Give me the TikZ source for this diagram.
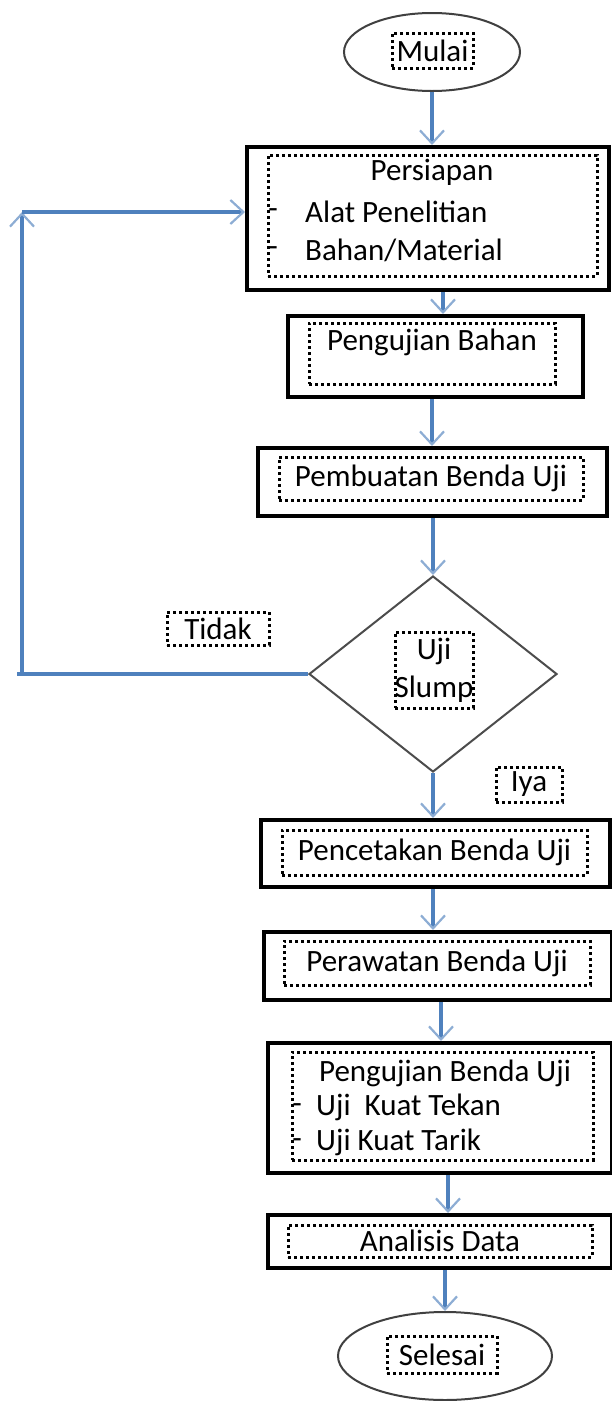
\documentclass[tikz,border=0pt]{standalone}
\usepackage{fontspec}
\setmainfont{Carlito}
\usepackage{tikz}
\usetikzlibrary{shapes.geometric, arrows.meta}
\definecolor{flowblue}{RGB}{79,129,189}
\tikzset{
  procbox/.style={draw, line width=4pt, inner sep=0pt},
  inbox/.style={draw, line width=3pt, dash pattern=on 3pt off 3pt, inner sep=0pt},
  terminal/.style={ellipse, draw=black!75, line width=2pt, inner sep=0pt},
  decision/.style={diamond, draw=black!70, line width=2pt, inner sep=0pt},
  flow/.style={flowblue, line width=3.5pt, -{Straight Barb[length=13pt, width=24pt, line width=2.2pt, color=flowblue!65]}},
  txt/.style={inner sep=0pt, font=\fontsize{31}{37}\selectfont}
}
\begin{document}
\begin{tikzpicture}[x=1pt, y=-1pt, every node/.append style={font=\fontsize{31}{37}\selectfont}]
		\useasboundingbox (0,0) rectangle (611,1401);
		% terminal
		\node[terminal, minimum width=176, minimum height=78] (mulai) at (432,52) {};
		\node[inbox, minimum width=81, minimum height=35] (mulaiIn) at (432.5,50.5) {Mulai};
		% persiapan
		\node[procbox, minimum width=362, minimum height=143] (persiapan) at (428,218.5) {};
		\node[inbox, minimum width=329, minimum height=121] (persiapanIn) at (432.5,215.5) {};
		\node[txt] (persiapanT) at (432,172) {Persiapan};
		\node[txt] (dashA) at (273,214) {-};
		\node[txt] (dashB) at (273,252) {-};
		\node[txt, anchor=west] (alat) at (305,212) {Alat Penelitian};
		\node[txt, anchor=west] (bahan) at (305,250) {Bahan/Material};
		% pengujian bahan
		\node[procbox, minimum width=295, minimum height=81] (ujiBahan) at (435.5,356.5) {};
		\node[inbox, minimum width=246, minimum height=61] (ujiBahanIn) at (432,353.5) {};
		\node[txt] (ujiBahanT) at (432,342) {Pengujian Bahan};
		% pembuatan
		\node[procbox, minimum width=349, minimum height=68] (pembuatan) at (432.5,482) {};
		\node[inbox, minimum width=304, minimum height=43] (pembuatanIn) at (431,478.5) {Pembuatan Benda Uji};
		% uji slump
		\node[decision, minimum width=248, minimum height=196] (slump) at (433,674) {};
		\node[inbox, minimum width=78, minimum height=76] (slumpIn) at (434,670) {};
		\node[txt] (slumpA) at (434,651) {Uji};
		\node[txt] (slumpB) at (434,689) {Slump};
		\node[inbox, minimum width=102, minimum height=33] (tidak) at (218,628.5) {Tidak};
		\node[inbox, minimum width=66, minimum height=35] (iya) at (529,784.5) {Iya};
		% pencetakan, perawatan
		\node[procbox, minimum width=349, minimum height=67] (pencetakan) at (435.5,853.5) {};
		\node[inbox, minimum width=305, minimum height=45] (pencetakanIn) at (434.5,852.5) {Pencetakan Benda Uji};
		\node[procbox, minimum width=348, minimum height=68] (perawatan) at (438,966) {};
		\node[inbox, minimum width=306, minimum height=44] (perawatanIn) at (437,963) {Perawatan Benda Uji};
		% pengujian benda uji
		\node[procbox, minimum width=344, minimum height=130] (ujiBenda) at (440,1108) {};
		\node[inbox, minimum width=301, minimum height=108] (ujiBendaIn) at (442.5,1106) {};
		\node[txt] (ujiBendaT) at (445,1073) {Pengujian Benda Uji};
		\node[txt] (dashC) at (297,1109) {-};
		\node[txt] (dashD) at (297,1144) {-};
		\node[txt, anchor=west] (tekan) at (316,1107) {Uji~~Kuat Tekan};
		\node[txt, anchor=west] (tarik) at (316,1142) {Uji Kuat Tarik};
		% analisis, selesai
		\node[procbox, minimum width=344, minimum height=53] (analisis) at (440,1241.5) {};
		\node[inbox, minimum width=304, minimum height=32] (analisisIn) at (440,1241) {Analisis Data};
		\node[terminal, minimum width=214, minimum height=88] (selesai) at (445,1356) {};
		\node[inbox, minimum width=110, minimum height=37] (selesaiIn) at (442,1354.5) {Selesai};
		% alur
		\draw[flow] (mulai.south) -- (mulai.south |- persiapan.north);
		\draw[flow] (persiapan.south -| 443,0) -- (ujiBahan.north -| 443,0);
		\draw[flow] (ujiBahan.south -| 432,0) -- (pembuatan.north -| 432,0);
		\draw[flow] (pembuatan.south -| slump.north) -- (slump.north);
		\draw[flow] (slump.south) -- (slump.south |- pencetakan.north);
		\draw[flow] (pencetakan.south -| 433,0) -- (perawatan.north -| 433,0);
		\draw[flow] (perawatan.south -| 441,0) -- (ujiBenda.north -| 441,0);
		\draw[flow] (ujiBenda.south -| 448,0) -- (analisis.north -| 448,0);
		\draw[flow] (analisis.south -| selesai.north) -- (selesai.north);
		% kembali
		\coordinate (back1) at (slump.west -| 22,0);
		\coordinate (back2) at (22,212);
		\draw[flow, -] (slump.west) -- (back1 -| 17,0);
		\draw[flow] (back1) -- (back2);
		\draw[flow] (back2) -- (back2 -| persiapan.west);
	\end{tikzpicture}
\end{document}
